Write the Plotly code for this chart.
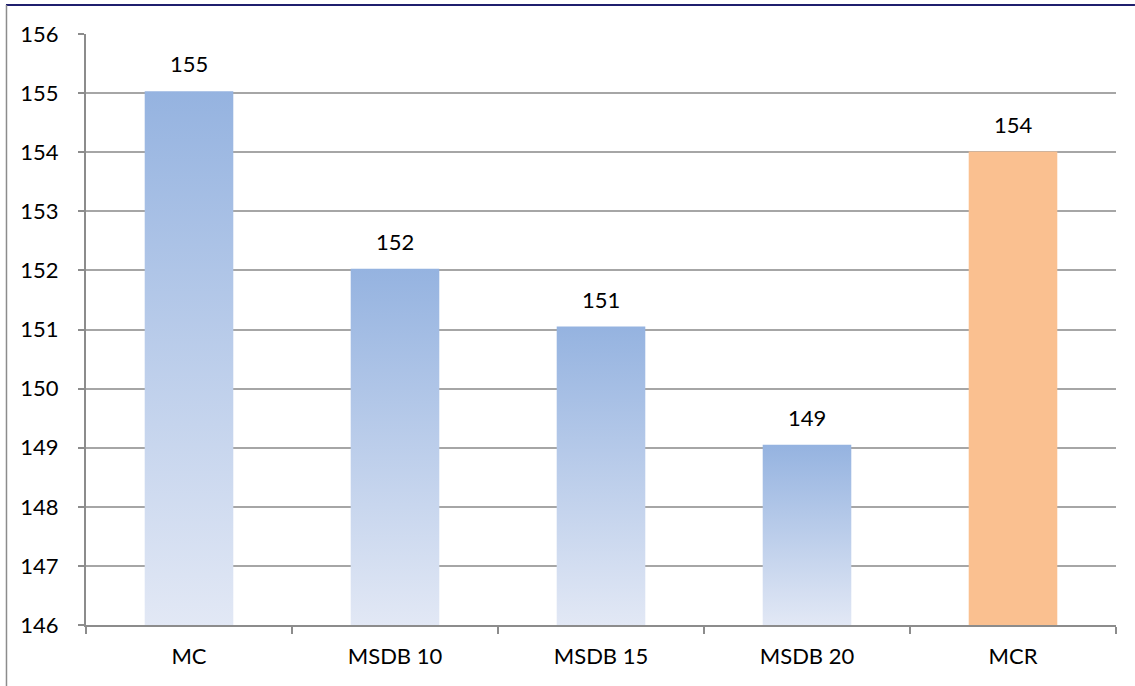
import plotly.graph_objects as go

categories = ["MC", "MSDB 10", "MSDB 15", "MSDB 20", "MCR"]
values = [155.03, 152.03, 151.05, 149.05, 154.01]
labels = ["155", "152", "151", "149", "154"]
y_ticks = [146, 147, 148, 149, 150, 151, 152, 153, 154, 155, 156]

BASE = 146
HALF = 0.215
FONT = "Lato, 'Open Sans', sans-serif"
FS = 22

fig = go.Figure()

for i, (cat, v) in enumerate(zip(categories, values)):
    xs = [i - HALF, i + HALF, i + HALF, i - HALF, i - HALF]
    ys = [BASE, BASE, v, v, BASE]
    if cat == "MCR":
        fig.add_trace(go.Scatter(x=xs, y=ys, mode="lines", fill="toself",
                                 fillcolor="#FAC090", line=dict(width=0),
                                 showlegend=False, hoverinfo="skip"))
    else:
        fig.add_trace(go.Scatter(x=xs, y=ys, mode="lines", fill="toself",
                                 fillgradient=dict(type="vertical",
                                                   colorscale=[[0, "#E2E8F5"], [1, "#95B3E0"]]),
                                 line=dict(width=0),
                                 showlegend=False, hoverinfo="skip"))

for i, (v, t) in enumerate(zip(values, labels)):
    fig.add_annotation(x=i, y=v, text=t, showarrow=False, yanchor="bottom",
                       yshift=12, font=dict(family=FONT, size=FS, color="#000000"))

# invisible trace to activate the boundary-tick axis
fig.add_trace(go.Scatter(x=[-0.5, 4.5], y=[BASE, BASE], xaxis="x2", mode="markers",
                         marker=dict(opacity=0), showlegend=False, hoverinfo="skip"))

fig.update_layout(
    width=1135, height=686,
    margin=dict(l=86, r=19, t=34, b=61),
    paper_bgcolor="white", plot_bgcolor="white",
    font=dict(family=FONT, size=FS, color="#000000"),
    xaxis=dict(range=[-0.5, 4.5], tickvals=list(range(len(categories))),
               ticktext=categories, ticks="", showgrid=False, zeroline=False,
               showline=False, tickfont=dict(size=FS), ticklabelstandoff=16),
    xaxis2=dict(range=[-0.5, 4.5], overlaying="x", side="bottom",
                tickvals=[k - 0.5 for k in range(len(categories) + 1)],
                showticklabels=False, ticks="outside", ticklen=7, tickwidth=2,
                tickcolor="#8C8C8C", showline=True, linecolor="#8C8C8C", linewidth=2,
                showgrid=False, zeroline=False),
    yaxis=dict(range=[146, 156], tickvals=y_ticks, ticks="outside", ticklen=6,
               tickwidth=2, tickcolor="#8C8C8C", showline=True, linecolor="#8C8C8C",
               linewidth=2, showgrid=True, gridcolor="#A6A6A6", gridwidth=1.5,
               zeroline=False, tickfont=dict(size=FS), ticklabelstandoff=15),
    shapes=[
        dict(type="line", xref="paper", yref="paper", x0=-0.0777, x1=1.0184,
             y0=1.049, y1=1.049, line=dict(color="#1F1F6E", width=2)),
        dict(type="line", xref="paper", yref="paper", x0=-0.0772, x1=-0.0772,
             y0=1.049, y1=-0.11, line=dict(color="#8C8C8C", width=1.5)),
    ],
)

fig.write_html("out.html")
